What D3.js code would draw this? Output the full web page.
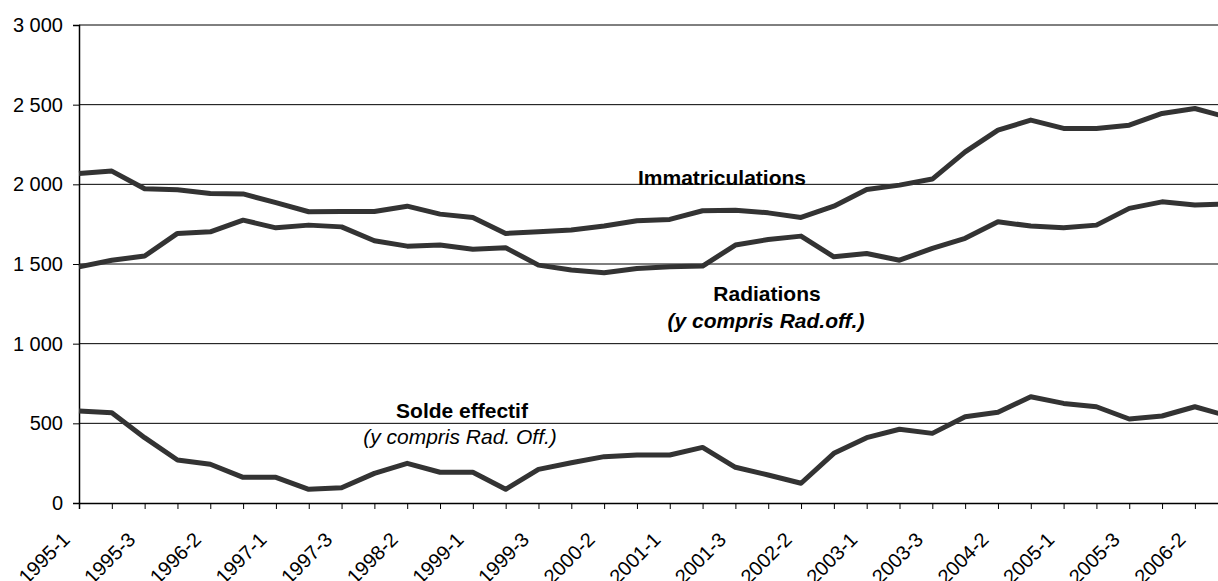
<!DOCTYPE html>
<html>
<head>
<meta charset="utf-8">
<script src="https://cdn.jsdelivr.net/npm/d3@7"></script>
<style>
  html, body { margin: 0; padding: 0; background: #fff; }
  svg { display: block; font-family: "Liberation Sans", Arial, sans-serif; }
</style>
</head>
<body>
<svg id="chart" width="1218" height="581"></svg>
<script>
const categories = [];
for (let y = 1995; y <= 2006; y++) for (let p = 1; p <= 3; p++) categories.push(y + "-" + p);

const immatriculations = [2068, 2083, 1972, 1966, 1943, 1940, 1885, 1828, 1830, 1830,
  1863, 1813, 1792, 1692, 1702, 1713, 1738, 1771, 1780, 1834,
  1838, 1821, 1792, 1863, 1968, 1995, 2033, 2204, 2340, 2403,
  2351, 2351, 2371, 2445, 2476, 2420];

const radiations = [1482, 1524, 1550, 1692, 1702, 1775, 1727, 1744, 1733, 1646,
  1612, 1619, 1593, 1602, 1493, 1462, 1445, 1472, 1482, 1487,
  1619, 1654, 1675, 1545, 1566, 1524, 1598, 1661, 1765, 1738,
  1727, 1744, 1849, 1890, 1870, 1876];

const solde = [577, 567, 410, 270, 243, 161, 161, 86, 96, 186,
  249, 193, 193, 86, 211, 253, 291, 301, 301, 349,
  224, 176, 124, 312, 410, 463, 437, 541, 569, 667,
  625, 604, 527, 546, 604, 546];

const yTicks = [0, 500, 1000, 1500, 2000, 2500, 3000];
const xTickLabels = categories.filter((d, i) => i % 2 === 0 && i < 35);

const svg = d3.select("#chart");
const W = 1218;
const x0 = 79, step = 32.82;
const x = d3.scalePoint().domain(categories).range([x0, x0 + step * (categories.length - 1)]);
const y = d3.scaleLinear().domain([0, 3000]).range([503, 25]);

const fmt = v => d3.format(",")(v).replace(/,/g, "\u00a0");

// gridlines
svg.append("g").selectAll("line").data(yTicks.filter(d => d > 0)).join("line")
  .attr("x1", x0).attr("x2", W)
  .attr("y1", d => y(d)).attr("y2", d => y(d))
  .attr("stroke", "#000").attr("stroke-width", 1);

// y axis
const yAxis = d3.axisLeft(y).tickValues(yTicks).tickSize(6).tickPadding(10).tickFormat(fmt);
const gy = svg.append("g").attr("transform", `translate(${x0},0)`).call(yAxis);
gy.select(".domain").attr("stroke", "#000").attr("stroke-width", 1.5);
gy.selectAll(".tick line").attr("stroke", "#000");
gy.selectAll(".tick text").attr("font-size", 20).attr("fill", "#000")
  .attr("font-family", "Liberation Sans, Arial, sans-serif");

// x axis
const xAxis = d3.axisBottom(x).tickSize(6).tickFormat(() => "");
const gx = svg.append("g").attr("transform", `translate(0,${y(0)})`).call(xAxis);
gx.select(".domain").attr("stroke", "#000").attr("stroke-width", 1.5);
gx.selectAll(".tick line").attr("stroke", "#000");

svg.append("g").selectAll("text").data(xTickLabels).join("text")
  .attr("transform", d => `translate(${x(d) - 8},${y(0) + 38}) rotate(-45)`)
  .attr("text-anchor", "end")
  .attr("font-size", 20).attr("fill", "#000")
  .text(d => d);

// lines
const line = d3.line().x((d, i) => x(categories[i])).y(d => y(d));
[immatriculations, radiations, solde].forEach(series => {
  svg.append("path").datum(series)
    .attr("d", line)
    .attr("fill", "none")
    .attr("stroke", "#333")
    .attr("stroke-width", 5)
    .attr("stroke-linejoin", "round");
});

// annotations
const notes = [
  {t: "Immatriculations", cx: 722, by: 185, w: "bold", s: "normal"},
  {t: "Radiations", cx: 767, by: 301, w: "bold", s: "normal"},
  {t: "(y compris Rad.off.)", cx: 766, by: 328, w: "bold", s: "italic"},
  {t: "Solde effectif", cx: 462, by: 418, w: "bold", s: "normal"},
  {t: "(y compris Rad. Off.)", cx: 460, by: 444, w: "normal", s: "italic"}
];
svg.append("g").selectAll("text").data(notes).join("text")
  .attr("x", d => d.cx).attr("y", d => d.by)
  .attr("text-anchor", "middle")
  .attr("font-size", 21)
  .attr("font-weight", d => d.w)
  .attr("font-style", d => d.s)
  .attr("fill", "#000")
  .text(d => d.t);
</script>
</body>
</html>
